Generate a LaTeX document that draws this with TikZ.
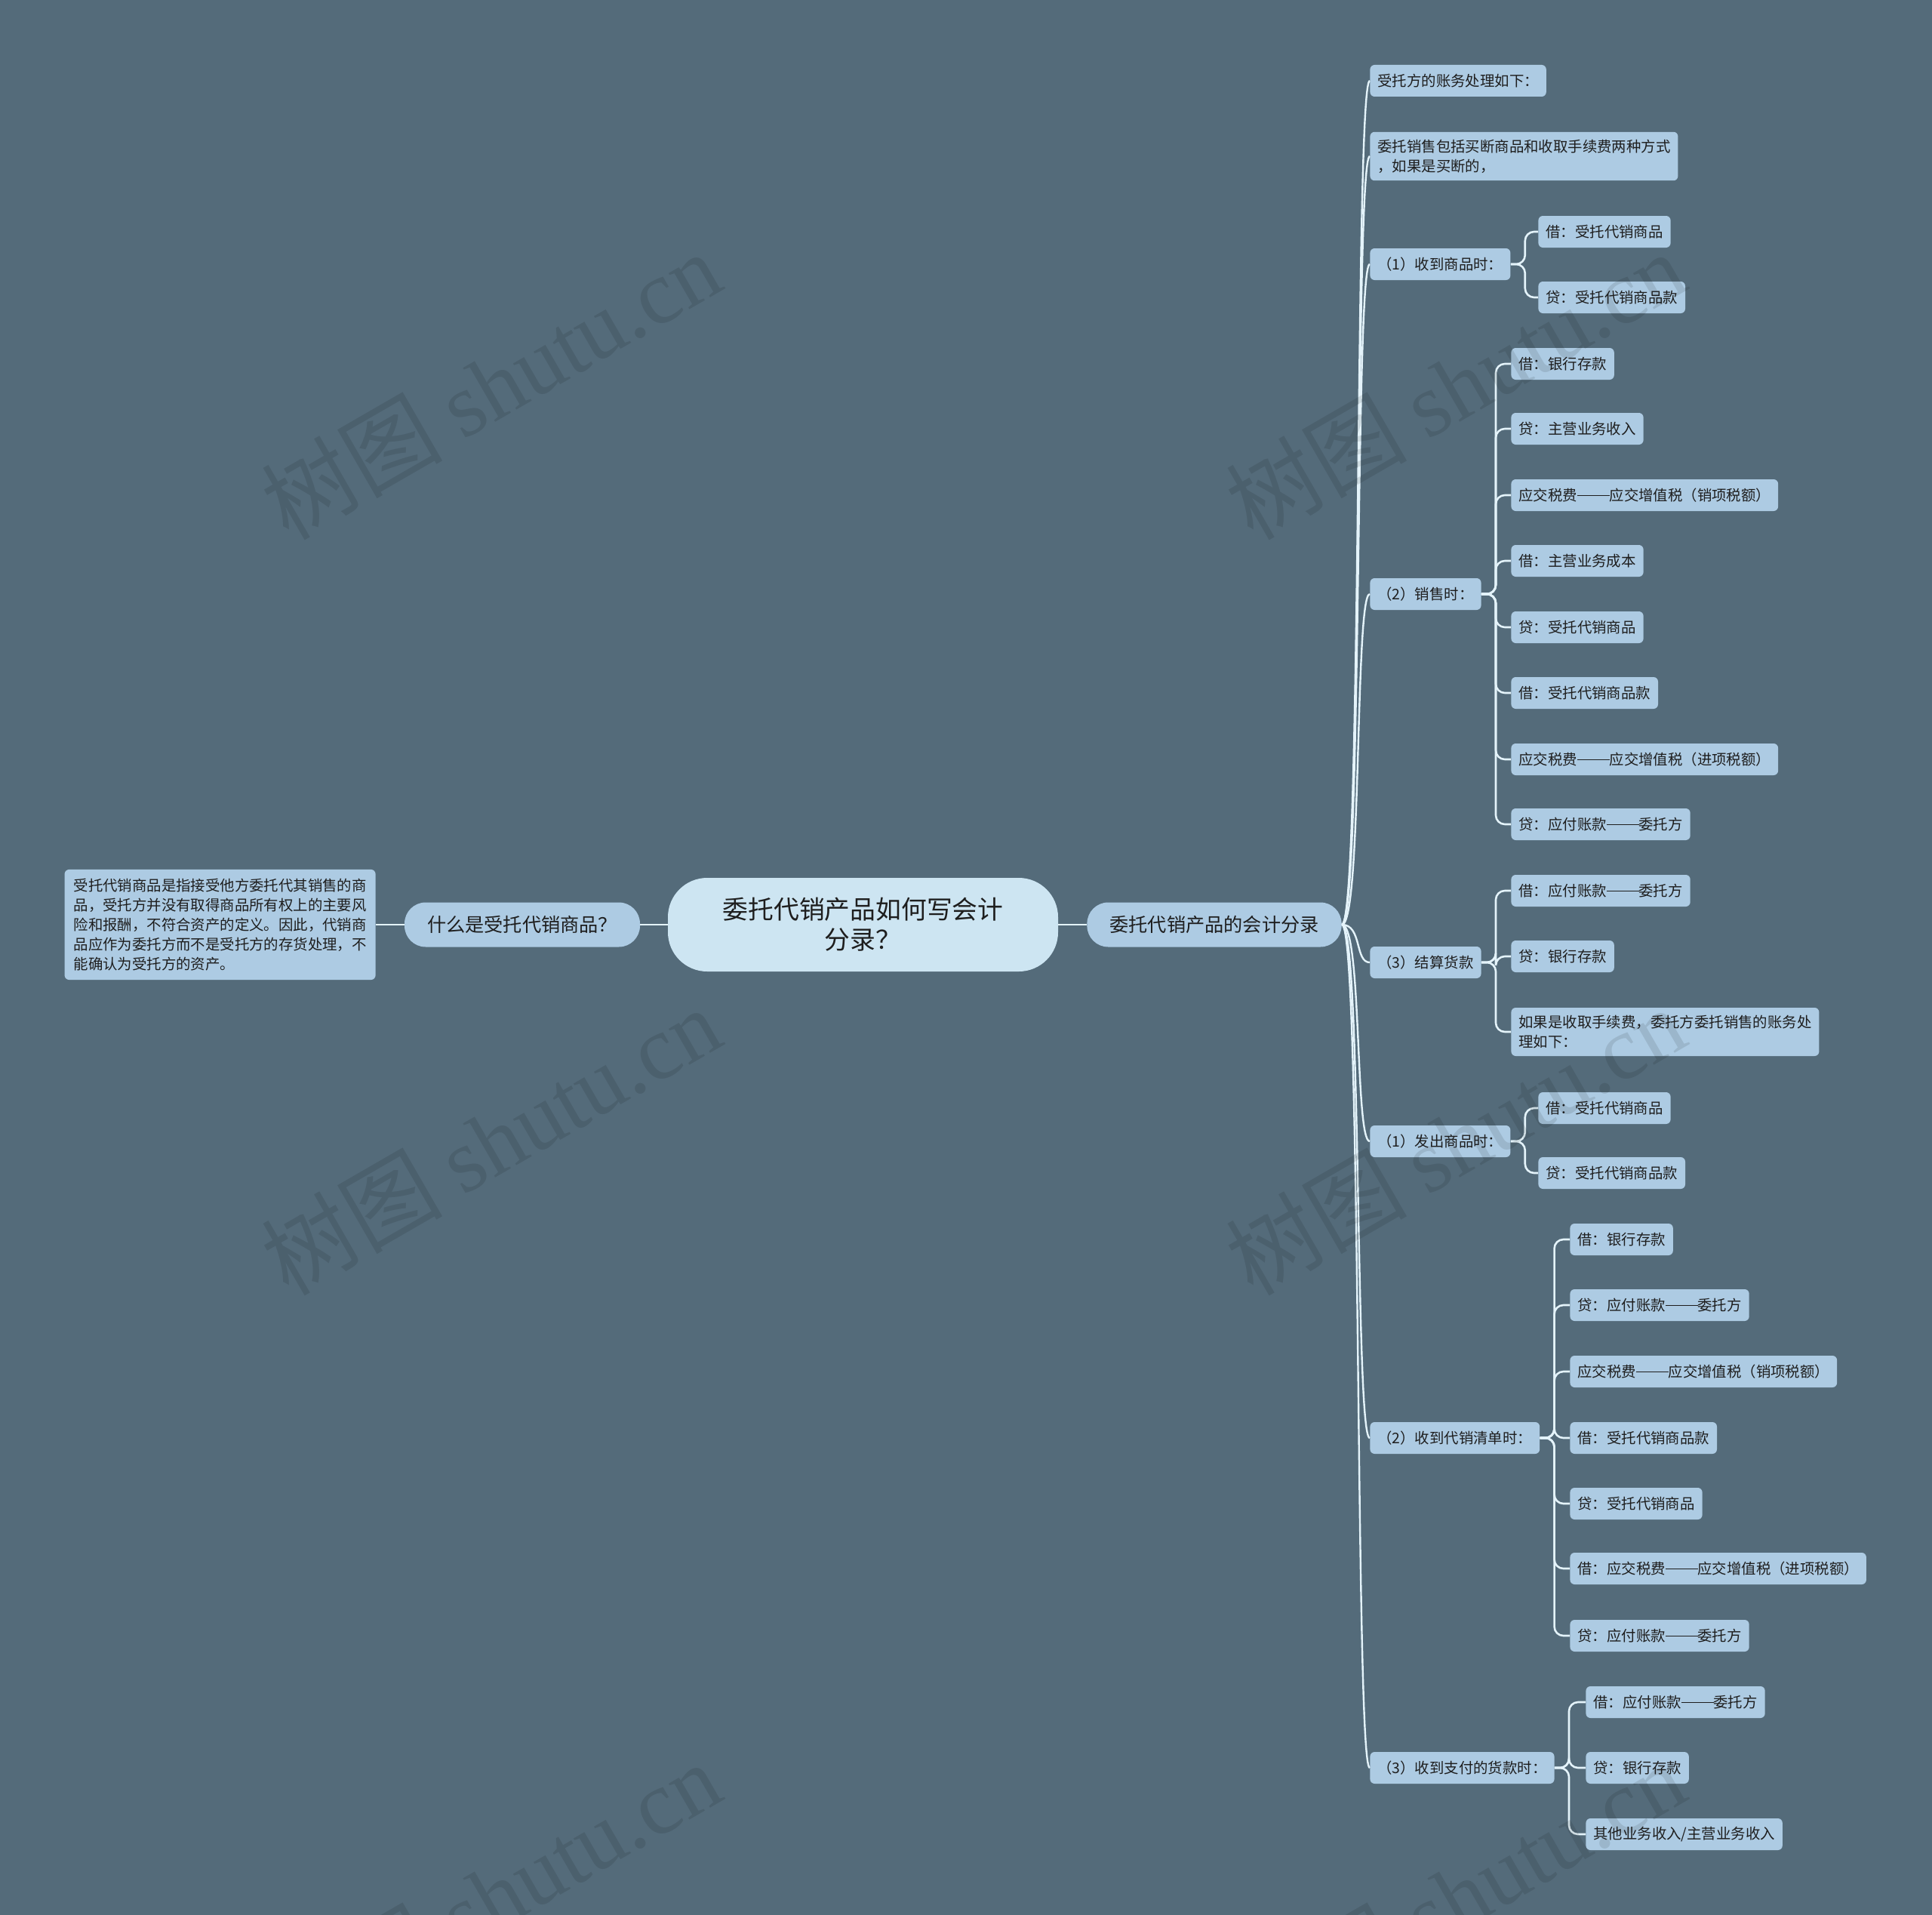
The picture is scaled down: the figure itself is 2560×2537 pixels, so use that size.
\documentclass[tikz,border=0pt]{standalone}
\usepackage{fontspec}
\setmainfont{Noto Sans CJK SC}
\newfontfamily\wmlatin{Liberation Serif}
\usepackage{tikz}

\definecolor{bgcol}{RGB}{84,107,122}
\definecolor{leafblue}{RGB}{173,203,227}
\definecolor{rootblue}{RGB}{205,229,242}
\definecolor{linkcol}{RGB}{228,243,250}
\definecolor{inkdark}{RGB}{30,30,30}

\newcommand\longdash{\rule[0.33em]{2.2em}{0.06em}}

\begin{document}
\begin{tikzpicture}[x=0.5pt, y=-0.5pt,
    leaf/.style={fill=leafblue, text=inkdark, rounded corners=3pt, anchor=west,
        font=\fontsize{9.7}{13}\selectfont, inner xsep=5pt, inner ysep=5pt,
        minimum height=21pt, align=left},
    topic/.style={fill=leafblue, text=inkdark, rounded corners=14pt,
        font=\fontsize{12.6}{15}\selectfont, minimum height=29.5pt, inner xsep=15pt},
    rootnode/.style={fill=rootblue, text=inkdark, rounded corners=26pt,
        font=\fontsize{16.9}{20}\selectfont, align=center,
        minimum width=258.5pt, minimum height=62pt},
    link/.style={draw=linkcol, line width=1.2pt},
    twig/.style={link, line width=1.3pt, rounded corners=6pt},
    wmtext/.style={rotate=30, text=black, text opacity=0.1,
        font=\fontsize{60}{60}\selectfont}]

    % Background
    \fill[bgcol] (0,0) rectangle (2560,2537);
    \useasboundingbox (0,0) rectangle (2560,2537);

    % Root
    \node[rootnode] (root) at (1143.5,1225) {委托代销产品如何写会计\\分录？};

    % Left side
    \node[topic] (qdef) at (692,1225) {什么是受托代销商品？};
    \node[leaf, anchor=east, inner xsep=6pt, inner ysep=6pt] (qnote) at (498,1225)
        {受托代销商品是指接受他方委托代其销售的商\\品，受托方并没有取得商品所有权上的主要风\\险和报酬，不符合资产的定义。因此，代销商\\品应作为委托方而不是受托方的存货处理，不\\能确认为受托方的资产。};

    % Right side
    \node[topic] (main) at (1609,1225) {委托代销产品的会计分录};

    % Entries
    \node[leaf] (r1) at (1815,107) {受托方的账务处理如下：};
    \node[leaf] (r2) at (1815,207) {委托销售包括买断商品和收取手续费两种方式\\，如果是买断的，};
    \node[leaf] (r3) at (1815,350) {（1）收到商品时：};
    \node[leaf] (r4) at (1815,787) {（2）销售时：};
    \node[leaf] (r5) at (1815,1275) {（3）结算货款};
    \node[leaf] (r6) at (1815,1512) {（1）发出商品时：};
    \node[leaf] (r7) at (1815,1905) {（2）收到代销清单时：};
    \node[leaf] (r8) at (1815,2342) {（3）收到支付的货款时：};

    % (1) receive goods
    \node[leaf] (r3a) at (2038,307) {借：受托代销商品};
    \node[leaf] (r3b) at (2038,394) {贷：受托代销商品款};

    % (2) sales
    \node[leaf] (r4a) at (2002,482) {借：银行存款};
    \node[leaf] (r4b) at (2002,568) {贷：主营业务收入};
    \node[leaf] (r4c) at (2002,656) {应交税费\longdash 应交增值税（销项税额）};
    \node[leaf] (r4d) at (2002,743) {借：主营业务成本};
    \node[leaf] (r4e) at (2002,831) {贷：受托代销商品};
    \node[leaf] (r4f) at (2002,918) {借：受托代销商品款};
    \node[leaf] (r4g) at (2002,1006) {应交税费\longdash 应交增值税（进项税额）};
    \node[leaf] (r4h) at (2002,1092) {贷：应付账款\longdash 委托方};

    % (3) settlement
    \node[leaf] (r5a) at (2002,1180) {借：应付账款\longdash 委托方};
    \node[leaf] (r5b) at (2002,1267) {贷：银行存款};
    \node[leaf] (r5c) at (2002,1367) {如果是收取手续费，委托方委托销售的账务处\\理如下：};

    % (1) send goods
    \node[leaf] (r6a) at (2038,1468) {借：受托代销商品};
    \node[leaf] (r6b) at (2038,1554) {贷：受托代销商品款};

    % (2) sales list
    \node[leaf] (r7a) at (2080,1642) {借：银行存款};
    \node[leaf] (r7b) at (2080,1729) {贷：应付账款\longdash 委托方};
    \node[leaf] (r7c) at (2080,1817) {应交税费\longdash 应交增值税（销项税额）};
    \node[leaf] (r7d) at (2080,1905) {借：受托代销商品款};
    \node[leaf] (r7e) at (2080,1992) {贷：受托代销商品};
    \node[leaf] (r7f) at (2080,2078) {借：应交税费\longdash 应交增值税（进项税额）};
    \node[leaf] (r7g) at (2080,2167) {贷：应付账款\longdash 委托方};

    % (3) payment
    \node[leaf] (r8a) at (2101,2255) {借：应付账款\longdash 委托方};
    \node[leaf] (r8b) at (2101,2342) {贷：银行存款};
    \node[leaf] (r8c) at (2101,2430) {其他业务收入/主营业务收入};

    % Edges
    \draw[link, line width=1.4pt] (root.east) -- (main.west);
    \draw[link, line width=1.4pt] (root.west) -- (qdef.east);
    \draw[link, line width=1.4pt] (qdef.west) -- (qnote.east);
    \foreach \n in {r1,r2,r3,r4,r5,r6,r7,r8}
        \draw[link] (main.east) .. controls +(27,0) and +(-20,0) .. (\n.west);
    \foreach \c in {r3a,r3b}
        \draw[twig] (r3.east) -- ++(19,0) |- (\c.west);
    \foreach \c in {r4a,r4b,r4c,r4d,r4e,r4f,r4g,r4h}
        \draw[twig] (r4.east) -- ++(19,0) |- (\c.west);
    \foreach \c in {r5a,r5b,r5c}
        \draw[twig] (r5.east) -- ++(19,0) |- (\c.west);
    \foreach \c in {r6a,r6b}
        \draw[twig] (r6.east) -- ++(19,0) |- (\c.west);
    \foreach \c in {r7a,r7b,r7c,r7d,r7e,r7f,r7g}
        \draw[twig] (r7.east) -- ++(19,0) |- (\c.west);
    \foreach \c in {r8a,r8b,r8c}
        \draw[twig] (r8.east) -- ++(19,0) |- (\c.west);

    % Watermark
    \node[wmtext] (wm1) at (650,510) {树图 {\wmlatin shutu.cn}};
    \node[wmtext] (wm2) at (1928,510) {树图 {\wmlatin shutu.cn}};
    \node[wmtext] (wm3) at (650,1511) {树图 {\wmlatin shutu.cn}};
    \node[wmtext] (wm4) at (1928,1511) {树图 {\wmlatin shutu.cn}};
    \node[wmtext] (wm5) at (650,2511) {树图 {\wmlatin shutu.cn}};
    \node[wmtext] (wm6) at (1928,2511) {树图 {\wmlatin shutu.cn}};
\end{tikzpicture}
\end{document}
